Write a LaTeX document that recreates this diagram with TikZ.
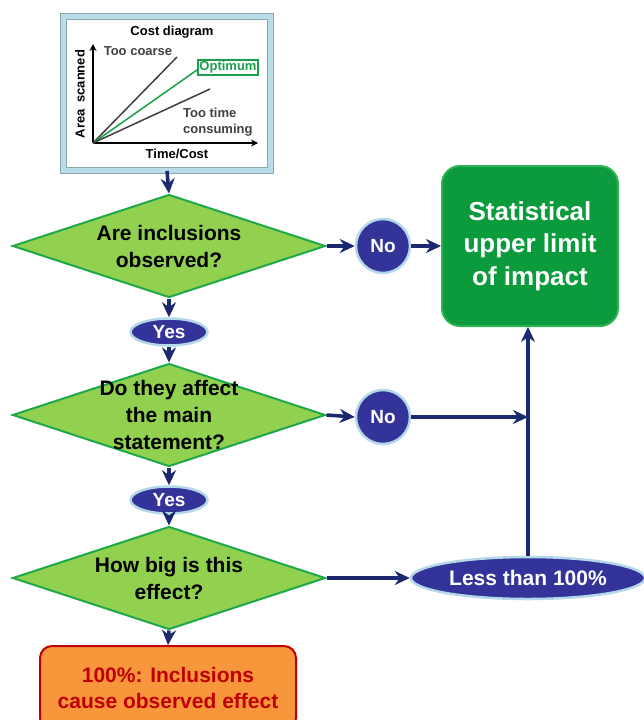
\documentclass[tikz,border=0pt]{standalone}
\usepackage{fontspec}
\setmainfont{Liberation Sans}
\usepackage{xcolor}
\usetikzlibrary{arrows.meta,shapes.geometric}

\definecolor{qfill}{HTML}{92D050}
\definecolor{qline}{HTML}{1FA84A}
\definecolor{ansfill}{HTML}{333399}
\definecolor{ansrim}{HTML}{B4D8E8}
\definecolor{navy}{HTML}{1B2A6E}
\definecolor{limfill}{HTML}{0B9B3C}
\definecolor{limline}{HTML}{2DB351}
\definecolor{orfill}{HTML}{F8963C}
\definecolor{orline}{HTML}{C00000}
\definecolor{bandblue}{HTML}{B9DDE6}
\definecolor{framegrey}{HTML}{8AA6AE}
\definecolor{optgreen}{HTML}{1AA04A}
\definecolor{chartgrey}{HTML}{404040}

\begin{document}
\begin{tikzpicture}[x=1pt,y=-1pt,
  font=\bfseries,
  chartframe/.style={draw=framegrey,line width=1pt,double=bandblue,double distance=5pt,fill=white,minimum width=207pt,minimum height=154pt,inner sep=0pt},
  question/.style={diamond,draw=qline,line width=2pt,fill=qfill,minimum width=313pt,minimum height=103pt,inner sep=0pt},
  qtext/.style={align=center,font=\fontsize{21}{27}\selectfont\bfseries},
  answer/.style={ellipse,draw=ansrim,line width=2.5pt,fill=ansfill,text=white,font=\fontsize{19}{23}\selectfont\bfseries,inner sep=0pt},
  limit/.style={draw=limline,line width=2pt,fill=limfill,rounded corners=18pt,text=white,align=center,minimum width=176pt,minimum height=160pt,font=\fontsize{26}{32.5}\selectfont\bfseries},
  cause/.style={draw=orline,line width=2pt,fill=orfill,rounded corners=12pt,text=orline,align=center,minimum width=256pt,minimum height=84pt,font=\fontsize{21}{26}\selectfont\bfseries},
  chartlabel/.style={text=chartgrey,font=\fontsize{13}{16}\selectfont\bfseries,inner sep=1pt},
  arrow/.style={-{Stealth[length=15pt,width=14pt]},line width=3.5pt,draw=navy},
  axis/.style={-{Stealth[length=7pt,width=7pt]},line width=1.5pt,draw=black}
]
\useasboundingbox (0,0) rectangle (644,720);
\clip (0,0) rectangle (644,720);

% cost diagram
\node[chartframe] (chart) at (167,93.5) {};
\coordinate (o) at (93,143);
\coordinate (ytop) at (93,44);
\coordinate (xend) at (258,143);
\draw[axis] (o) -- (ytop);
\draw[axis] (o) -- (xend);
\draw[chartgrey,line width=1.5pt] (o) -- (177,57);
\draw[optgreen,line width=1.5pt] (o) -- (197,70);
\draw[chartgrey,line width=1.5pt] (o) -- (210,89);
\node[chartlabel,text=black] (title) at (172,32) {Cost diagram};
\node[chartlabel,text=black,rotate=90] (ylab) at (80,94) {Area\enspace scanned};
\node[chartlabel,text=black] (xlab) at (177,154) {Time/Cost};
\node[chartlabel] (coarse) at (138,51) {Too coarse};
\node[chartlabel,text=optgreen,draw=optgreen,line width=1.2pt,fill=white,inner sep=1.5pt] (opt) at (228,67.5) {Optimum};
\node[chartlabel,anchor=west,align=left] (slow) at (182,122) {Too time\\consuming};

% flow
\node[question,label={[qtext]center:Are inclusions\\observed?}] (q1) at (169,246) {};
\node[answer,minimum width=77pt,minimum height=27pt] (yes1) at (169,332) {Yes};
\node[question,label={[qtext]center:Do they affect\\the main\\statement?}] (q2) at (169,415) {};
\node[answer,minimum width=77pt,minimum height=27pt] (yes2) at (169,500) {Yes};
\node[question,label={[qtext]center:How big is this\\effect?}] (q3) at (169,578) {};
\node[cause] (effect) at (168,688) {100\%: Inclusions\\cause observed effect};

\node[answer,circle,minimum size=54pt] (no1) at (383,246) {No};
\node[answer,circle,minimum size=54pt] (no2) at (383,417) {No};
\node[answer,minimum width=234pt,minimum height=42pt,font=\fontsize{21}{25}\selectfont\bfseries] (less) at (528,578) {Less than 100\%};
\node[limit] (stat) at (530,246) {Statistical\\upper limit\\of impact};
\coordinate (join) at (less.north |- no2);

\draw[arrow] (chart.south) -- (q1.north);
\draw[arrow] (q1.south) -- (yes1.north);
\draw[arrow] (yes1.south) -- (q2.north);
\draw[arrow] (q2.south) -- (yes2.north);
\draw[arrow] (yes2.south) -- (q3.north);
\draw[arrow] (q3.south) -- (effect.north);
\draw[arrow] (q1.east) -- (no1.west);
\draw[arrow] (no1.east) -- (no1.east -| stat.west);
\draw[arrow] (q2.east) -- (no2.west);
\draw[arrow] (no2.east) -- (join);
\draw[arrow] (q3.east) -- (less.west);
\draw[arrow] (less.north) -- (less.north |- stat.south);
\end{tikzpicture}
\end{document}
